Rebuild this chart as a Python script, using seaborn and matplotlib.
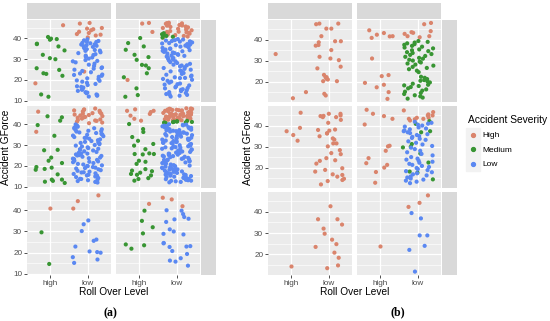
import numpy as np
import pandas as pd
import matplotlib.pyplot as plt
import seaborn as sns
from matplotlib.lines import Line2D
from matplotlib.patches import Rectangle

plt.rcParams['font.family'] = ['Liberation Sans', 'DejaVu Sans']

# ---- data: Accident GForce values, per facet panel, roll-over level and severity ----
levels = ['high', 'low']
severities = ['High', 'Medium', 'Low']

# (a) row 1, col 1
a11_hi_med = [37.3, 36.0, 40.5, 39.5, 34.1, 39.7, 39.2, 37.1, 32.0, 30.4, 29.9, 24.8, 22.9, 25.6, 23.2, 22.0, 13.1, 12.0]
a11_hi_high = [46.1, 18.4]
a11_lo_high = [43.7, 44.8, 46.9, 47.2, 41.6, 41.9, 42.4, 41.2, 44.2, 44.5, 43.0, 40.3, 24.0]
a11_lo_low = [39.4, 38.9, 38.6, 38.1, 37.7, 37.5, 36.9, 36.6, 36.1, 35.8, 35.2, 34.7, 34.3, 33.9, 33.2, 32.8,
              32.3, 31.6, 31.1, 30.7, 30.2, 29.5, 28.9, 28.4, 27.8, 27.3, 26.7, 26.0, 25.4, 24.9, 24.3, 23.7,
              23.1, 22.6, 22.0, 21.5, 20.8, 20.4, 19.8, 19.2, 18.7, 18.1, 17.6, 17.0, 16.4, 15.9, 15.3, 14.8,
              14.2, 13.7, 13.1, 12.5, 12.1, 38.2, 36.3, 34.0, 31.9, 29.1, 25.7, 22.4, 19.6, 16.7, 14.0, 12.8, 37.0]

# (a) row 1, col 2
a12_hi_med = [37.6, 36.0, 34.4, 32.0, 30.9, 29.6, 27.2, 26.9, 25.6, 23.2, 21.3, 16.0, 12.8, 12.0, 40.0]
a12_hi_high = [46.9, 47.2, 42.9, 20.0]
a12_lo_high = [47.3, 47.0, 46.8, 46.5, 46.2, 45.9, 45.5, 45.1, 44.8, 44.4, 44.0, 43.7, 43.3, 42.9, 42.5, 42.1,
               41.8, 41.4, 41.0, 40.7, 47.1, 46.0, 44.6, 43.0, 41.6, 40.3, 45.3, 42.7]
a12_lo_med = [41.2, 41.8, 40.6, 42.3, 41.0, 40.2]
a12_lo_low = [39.5, 39.3, 39.0, 38.8, 38.6, 38.3, 38.1, 37.9, 37.6, 37.4, 37.1, 36.9, 36.6, 36.4, 36.1, 35.9,
              35.6, 35.3, 35.0, 34.8, 34.5, 34.2, 33.9, 33.7, 33.4, 33.1, 32.8, 32.6, 32.3, 32.0, 31.7, 31.5,
              31.2, 30.9, 30.6, 30.4, 30.1, 38.4, 36.2, 34.0, 29.7, 29.3, 28.9, 28.5, 28.1, 27.7, 27.3, 26.9,
              26.5, 26.1, 25.7, 25.3, 24.9, 24.5, 24.1, 23.7, 23.3, 22.9, 22.5, 22.1, 21.7, 21.3, 20.9, 20.5,
              20.1, 27.0, 24.3, 21.0, 19.6, 19.2, 18.7, 18.3, 17.8, 17.4, 16.9, 16.5, 16.0, 15.6, 15.1, 14.7,
              14.2, 13.8, 13.3, 12.9, 12.5, 12.1, 18.0, 15.3, 13.0, 16.2]

# (a) row 2, col 1
a21_hi_med = [43.7, 43.2, 41.6, 39.5, 34.4, 27.5, 27.7, 24.0, 22.5, 21.4, 19.5, 19.2, 18.6, 18.2, 16.0, 13.5,
              13.5, 12.9, 12.5, 11.9]
a21_hi_high = [45.9, 36.3]
a21_lo_high = [47.4, 47.0, 46.7, 46.3, 46.0, 45.6, 45.2, 44.9, 44.5, 44.1, 43.8, 43.4, 43.0, 42.6, 42.2, 41.9,
               41.5, 41.1, 40.7, 40.4, 46.5, 45.0, 43.2, 41.7, 44.3]
a21_lo_low = [39.8, 39.4, 39.1, 38.7, 38.3, 37.9, 37.5, 37.2, 36.8, 36.4, 36.0, 35.7, 35.3, 34.9, 34.5, 34.2,
              33.8, 33.4, 33.0, 32.7, 32.3, 31.9, 31.5, 31.2, 30.8, 30.4, 30.0, 29.7, 29.3, 28.9, 28.5, 28.2,
              27.8, 27.4, 27.0, 26.7, 26.3, 25.9, 25.5, 25.2, 24.8, 24.4, 24.0, 23.7, 23.3, 22.9, 22.5, 22.2,
              21.8, 21.4, 21.0, 20.7, 20.3, 19.9, 19.5, 19.2, 18.8, 18.4, 18.0, 17.7, 17.3, 16.9, 16.5, 16.2,
              15.8, 15.4, 15.0, 14.7, 14.3, 13.9, 13.5, 13.2, 12.8, 12.4, 12.1, 38.0, 35.0, 31.0, 28.0, 25.0,
              22.0, 19.0, 17.0, 15.5, 13.8, 23.5, 20.0, 26.0, 33.5, 36.6]

# (a) row 2, col 2
a22_hi_med = [40.0, 37.6, 36.2, 33.8, 32.0, 30.5, 29.7, 28.0, 26.0, 25.7, 25.7, 25.5, 22.5, 22.0, 21.0, 18.5,
              17.8, 17.5, 16.8, 16.2, 15.8, 15.5, 14.2, 13.8, 13.0]
a22_hi_high = [47.0, 46.3, 46.3, 45.7, 44.8, 44.0, 42.5, 41.6]
a22_lo_high = [47.5, 47.4, 47.2, 47.1, 46.9, 46.8, 46.6, 46.5, 46.3, 46.2, 46.0, 45.9, 45.7, 45.6, 45.4, 45.3,
               45.1, 45.0, 44.8, 44.7, 44.5, 44.4, 44.2, 44.1, 43.9, 43.8, 43.6, 43.5, 43.3, 43.2, 43.0, 42.9,
               42.7, 42.6, 42.4, 42.3, 42.1, 42.0, 41.8, 41.7, 47.3, 46.7, 46.1, 45.5, 44.9, 44.3, 43.7, 43.1,
               42.5, 41.9]
a22_lo_med = [41.2, 41.0, 40.8, 41.5, 40.5, 41.3, 40.9, 40.6, 41.1, 40.7]
a22_lo_low = [39.9, 39.7, 39.6, 39.4, 39.2, 39.1, 38.9, 38.7, 38.4, 38.2, 38.0, 37.8, 37.5, 37.3, 37.1, 36.8,
              36.6, 36.4, 36.1, 35.9, 35.7, 35.4, 35.2, 35.0, 34.7, 34.5, 34.3, 34.0, 33.8, 33.5, 33.3, 33.1,
              32.8, 32.6, 32.4, 32.1, 31.9, 31.7, 31.4, 31.2, 30.9, 30.7, 30.5, 30.2, 29.9, 29.7, 29.4, 29.2,
              28.9, 28.7, 28.4, 28.2, 27.9, 27.7, 27.4, 27.2, 26.9, 26.7, 26.4, 26.2, 25.9, 25.7, 25.4, 25.2,
              24.9, 24.7, 24.4, 24.2, 23.9, 23.7, 23.4, 23.2, 22.9, 22.7, 22.4, 22.2, 21.9, 21.7, 21.4, 21.2,
              20.9, 20.7, 20.4, 20.2, 19.9, 19.7, 19.4, 19.2, 18.9, 18.7, 18.4, 18.2, 17.9, 17.7, 17.4, 17.2,
              16.9, 16.7, 16.4, 16.2, 15.9, 15.7, 15.4, 15.2, 14.9, 14.7, 14.4, 14.2, 13.9, 13.7, 13.4, 13.2,
              12.9, 12.7, 12.4, 12.2, 38.5, 36.0, 33.0, 29.0, 26.0, 23.0, 19.0, 16.0, 13.0, 37.0, 31.0, 24.5,
              17.5, 14.5]

# (a) row 3
a31_hi_med = [29.6, 14.7]
a31_hi_high = [40.8]
a31_lo_high = [47.0, 44.3, 40.8]
a31_lo_low = [35.2, 33.4, 30.2, 26.2, 25.6, 22.9, 20.6, 20.3, 20.0, 17.9, 16.8, 15.2]
a32_hi_med = [39.8, 35.0, 32.0, 29.1, 23.9, 23.5, 21.9]
a32_hi_high = [43.0]
a32_lo_high = [45.9, 45.1, 41.9]
a32_lo_low = [40.0, 39.8, 38.2, 36.8, 36.0, 35.7, 34.5, 31.0, 30.0, 28.9, 28.6, 24.6, 24.4, 23.1, 22.9, 22.7,
              20.8, 19.4, 17.4, 16.3, 15.8, 13.9]

# (b) row 1
b11_hi_high = [33.1, 15.0, 12.1]
b11_lo_high = [47.6, 47.6, 47.3, 45.2, 45.2, 41.6, 39.2, 39.2, 38.7, 37.4, 37.1, 35.0, 31.8, 31.0, 30.2, 27.1,
               26.3, 23.2, 22.1, 22.1, 21.3, 21.0, 20.2, 20.2, 14.2, 13.4]
b12_hi_high = [44.4, 43.1, 42.3, 41.6, 41.5, 40.8, 31.0, 23.1, 22.6, 19.4, 18.5, 17.3, 15.0, 11.8]
b12_lo_high = [47.9, 47.3, 44.0, 43.5, 43.2, 42.7, 41.6, 41.6, 41.1]
b12_lo_med = [39.3, 38.9, 38.6, 38.2, 37.8, 37.5, 37.0, 36.6, 36.2, 35.8, 35.3, 34.9, 34.5, 34.0, 33.6, 33.1,
              32.7, 32.2, 31.8, 31.3, 30.9, 30.4, 30.0, 29.5, 29.1, 28.6, 28.1, 27.6, 27.0, 26.5, 25.9, 25.2,
              24.5, 22.3, 21.8, 21.2, 20.7, 20.1, 19.6, 19.0, 18.5, 17.9, 17.4, 16.8, 16.3, 15.7, 15.2, 14.6,
              14.1, 13.5, 13.0, 12.4, 11.9, 18.2, 20.4]

# (b) row 2
b21_hi_high = [46.1, 38.9, 37.3, 35.5, 32.8]
b21_lo_high = [45.6, 45.6, 44.8, 44.6, 44.5, 44.0, 44.0, 42.7, 41.3, 38.1, 37.9, 37.6, 36.3, 36.3, 34.9, 33.9,
               33.3, 31.5, 31.5, 30.1, 28.3, 26.9, 26.4, 24.5, 23.5, 23.2, 21.9, 19.7, 18.9, 18.1, 16.8, 16.5,
               15.7, 14.7, 14.1, 13.6, 12.0]
b22_hi_high = [47.5, 45.6, 44.5, 43.2, 40.5, 30.4, 30.1, 28.0, 24.5, 22.1, 21.3, 20.0, 17.9, 12.8]
b22_lo_high = [47.2, 46.4, 45.3, 44.8, 44.8, 43.7, 43.7, 43.2, 43.2, 42.4, 43.0]
b22_lo_med = [42.1, 40.8, 37.3, 36.8, 31.2, 29.9, 29.6, 26.7, 22.4, 18.1, 17.6, 14.4]
b22_lo_low = [41.8, 41.3, 40.9, 40.4, 40.0, 39.5, 39.1, 38.6, 38.2, 37.7, 37.3, 36.8, 36.4, 35.9, 35.5, 35.0,
              34.6, 34.1, 33.7, 33.2, 32.5, 31.8, 31.0, 30.3, 29.5, 28.8, 28.0, 27.3, 26.5, 25.8, 25.0, 24.3,
              23.8, 23.3, 22.8, 22.3, 21.8, 21.3, 20.8, 20.3, 19.8, 19.3, 18.8, 18.3, 17.8, 17.3, 16.8, 16.3,
              15.8, 15.3, 14.8, 14.3, 13.8, 13.3, 12.6]

# (b) row 3
b31_hi_high = [14.7]
b31_lo_high = [42.6, 36.5, 36.5, 34.0, 32.1, 29.7, 26.9, 24.8, 23.5, 20.8, 18.4, 14.8, 13.5]
b32_hi_high = [23.7]
b32_lo_high = [47.7, 44.2, 42.3]
b32_lo_low = [39.4, 36.9, 28.9, 28.9, 24.0, 22.1, 11.9]

panels = {
    ('a', 0, 0): {('high', 'Medium'): a11_hi_med, ('high', 'High'): a11_hi_high,
                  ('low', 'High'): a11_lo_high, ('low', 'Low'): a11_lo_low},
    ('a', 0, 1): {('high', 'Medium'): a12_hi_med, ('high', 'High'): a12_hi_high,
                  ('low', 'High'): a12_lo_high, ('low', 'Medium'): a12_lo_med, ('low', 'Low'): a12_lo_low},
    ('a', 1, 0): {('high', 'Medium'): a21_hi_med, ('high', 'High'): a21_hi_high,
                  ('low', 'High'): a21_lo_high, ('low', 'Low'): a21_lo_low},
    ('a', 1, 1): {('high', 'Medium'): a22_hi_med, ('high', 'High'): a22_hi_high,
                  ('low', 'High'): a22_lo_high, ('low', 'Medium'): a22_lo_med, ('low', 'Low'): a22_lo_low},
    ('a', 2, 0): {('high', 'Medium'): a31_hi_med, ('high', 'High'): a31_hi_high,
                  ('low', 'High'): a31_lo_high, ('low', 'Low'): a31_lo_low},
    ('a', 2, 1): {('high', 'Medium'): a32_hi_med, ('high', 'High'): a32_hi_high,
                  ('low', 'High'): a32_lo_high, ('low', 'Low'): a32_lo_low},
    ('b', 0, 0): {('high', 'High'): b11_hi_high, ('low', 'High'): b11_lo_high},
    ('b', 0, 1): {('high', 'High'): b12_hi_high, ('low', 'High'): b12_lo_high, ('low', 'Medium'): b12_lo_med},
    ('b', 1, 0): {('high', 'High'): b21_hi_high, ('low', 'High'): b21_lo_high},
    ('b', 1, 1): {('high', 'High'): b22_hi_high, ('low', 'High'): b22_lo_high,
                  ('low', 'Medium'): b22_lo_med, ('low', 'Low'): b22_lo_low},
    ('b', 2, 0): {('high', 'High'): b31_hi_high, ('low', 'High'): b31_lo_high},
    ('b', 2, 1): {('high', 'High'): b32_hi_high, ('low', 'High'): b32_lo_high, ('low', 'Low'): b32_lo_low},
}

palette = {'High': '#DA846C', 'Medium': '#389533', 'Low': '#5A88F2'}

# ---- layout (pixels of a 550x321 figure) ----
W, H = 550, 321
col_px = {'a': [(27, 111), (116, 200)], 'b': [(268, 352), (357, 441)]}
row_px = [(20, 102), (106, 188), (192, 275)]
strip_px = {'a': (201, 216), 'b': (442, 457)}
ylims = {'a': (9.5, 48.6), 'b': (10.3, 49.3)}
yticks = {'a': [10, 20, 30, 40], 'b': [20, 30, 40]}


def box(x0, y0, x1, y1):
    return [x0 / W, 1 - y1 / H, (x1 - x0) / W, (y1 - y0) / H]


def grey_rect(fig, x0, y0, x1, y1):
    fig.add_artist(Rectangle((x0 / W, 1 - y1 / H), (x1 - x0) / W, (y1 - y0) / H,
                             transform=fig.transFigure, color='#D9D9D9', lw=0))


np.random.seed(7)
fig = plt.figure(figsize=(W / 100, H / 100), dpi=100)

for (sub, r, c), groups in panels.items():
    x0, x1 = col_px[sub][c]
    y0, y1 = row_px[r]
    ax = fig.add_axes(box(x0, y0, x1, y1))
    ax.set_facecolor('#EBEBEB')
    recs = [(lvl, sev, v) for (lvl, sev), vals in groups.items() for v in vals]
    df = pd.DataFrame(recs, columns=['level', 'severity', 'gforce'])
    sns.stripplot(data=df, x='level', y='gforce', hue='severity', order=levels,
                  hue_order=severities, palette=palette, jitter=0.4, size=3.0,
                  linewidth=0, legend=False, ax=ax, zorder=3)
    ax.set_xlim(-0.6, 1.6)
    ax.set_ylim(*ylims[sub])
    ax.set_xticks([0, 1])
    ax.set_yticks(yticks[sub])
    ax.set_yticks([15, 25, 35, 45], minor=True)
    ax.grid(which='major', color='white', lw=0.9)
    ax.grid(which='minor', axis='y', color='white', lw=0.45)
    ax.set_axisbelow(True)
    for s in ax.spines.values():
        s.set_visible(False)
    ax.set_xlabel('')
    ax.set_ylabel('')
    ax.tick_params(which='minor', length=0)
    ax.tick_params(axis='both', labelsize=5.9, labelcolor='#4D4D4D', color='#333333',
                   length=2.2, width=0.6, pad=1.2)
    if c == 0:
        ax.set_yticklabels([str(t) for t in yticks[sub]])
    else:
        ax.tick_params(axis='y', length=0, labelleft=False)
    if r == 2:
        ax.set_xticklabels(levels)
    else:
        ax.tick_params(axis='x', length=0, labelbottom=False)
    if r == 0:
        grey_rect(fig, x0, 3, x1, 19)
    if c == 1:
        grey_rect(fig, strip_px[sub][0], y0, strip_px[sub][1], y1)

# axis titles and captions
for sub, xc, yx in [('a', 113.5, 6), ('b', 354.5, 248)]:
    fig.text(xc / W, 1 - 292 / H, 'Roll Over Level', ha='center', va='center', fontsize=7.3)
    fig.text(yx / W, 1 - 147.5 / H, 'Accident GForce', ha='center', va='center',
             rotation=90, fontsize=7.3)
fig.text(110 / W, 1 - 313 / H, '(a)', ha='center', va='center', fontsize=8.5,
         fontweight='bold', family=['Liberation Serif', 'DejaVu Serif'])
fig.text(398 / W, 1 - 312 / H, '(b)', ha='center', va='center', fontsize=8.5,
         fontweight='bold', family=['Liberation Serif', 'DejaVu Serif'])

# legend
handles = []
for s in severities:
    bg = Line2D([], [], marker='s', ls='', markersize=10.5, color='#F2F2F2')
    dot = Line2D([], [], marker='o', ls='', markersize=2.8, color=palette[s])
    handles.append((bg, dot))
fig.legend(handles, severities, title='Accident Severity', loc='upper left',
           bbox_to_anchor=(468 / W, 1 - 115 / H), frameon=False, fontsize=6,
           title_fontsize=7.4, alignment='left', handlelength=1.1, handletextpad=0.6,
           labelspacing=0.8, borderaxespad=0, borderpad=0)

fig.savefig('out.png', dpi=100)
